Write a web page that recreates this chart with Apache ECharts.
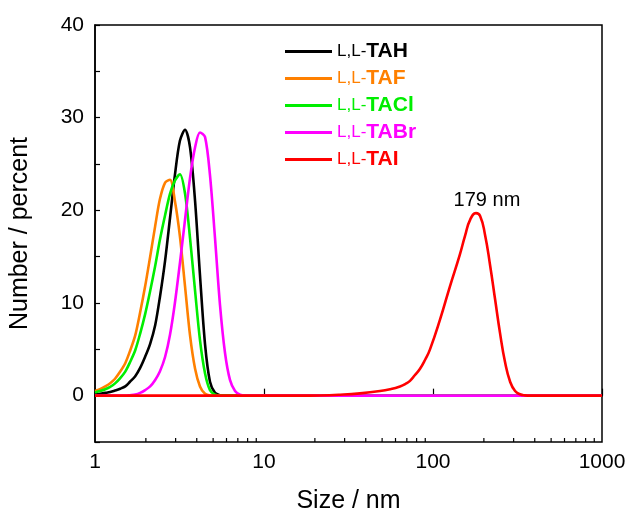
<!DOCTYPE html>
<html>
<head>
<meta charset="utf-8">
<script src="https://cdn.jsdelivr.net/npm/echarts@6/dist/echarts.min.js"></script>
<style>html,body{margin:0;padding:0;background:#fff;}#c{width:632px;height:515px;}</style>
</head>
<body>
<div id="c"></div>
<script>
// Sizes (nm) shared by the four small-molecule peaks
const sizes = [1.00,1.07,1.15,1.23,1.31,1.41,1.51,1.61,1.73,1.85,1.98,2.12,2.27,2.42,2.60,2.78,2.97,3.18,3.41,3.65,3.91,4.18,4.48,4.79,5.13,5.49,5.88,6.29,6.74,7.21,7.72,8.26,1000];
const tah  = [0.15,0.2,0.3,0.4,0.55,0.75,1.0,1.5,2.1,3.0,4.2,5.6,7.6,10.6,14.6,19.2,23.8,27.5,28.7,26.8,21.0,13.0,5.5,1.5,0.3,0.05,0,0,0,0,0,0,0];
const taf  = [0.5,0.7,1.0,1.35,1.8,2.6,3.5,4.8,6.5,9.0,11.8,15.0,18.3,21.2,23.0,23.3,21.0,17.2,11.8,6.5,2.9,1.0,0.2,0.02,0,0,0,0,0,0,0,0,0];
const tacl = [0.35,0.5,0.7,0.95,1.3,1.9,2.6,3.6,4.9,6.7,8.8,11.3,14.0,16.8,19.5,21.8,23.2,23.9,21.8,17.0,11.3,6.0,2.4,0.6,0.1,0,0,0,0,0,0,0,0];
const tabr = [0,0,0,0,0,0,0,0.05,0.12,0.3,0.6,1.0,1.7,2.6,4.2,6.6,10.0,14.3,19.0,23.5,26.8,28.4,27.9,23.8,17.0,9.8,4.6,1.7,0.5,0.1,0,0,0];
// TAI aggregate peak
const taiSizes = [1,16.3,21.4,28.2,37.0,48.6,55.7,63.8,68.5,73.1,78.0,83.8,90.0,96.0,110,126,144,155,166,179.6,190,203,218,233,249,267,286,306,327,350,375,1000];
const taiVals  = [0,0,0.02,0.1,0.25,0.5,0.7,1.0,1.25,1.6,2.2,2.9,3.9,5.0,8.2,11.8,15.2,17.3,19.0,19.7,19.4,17.4,14.0,10.4,6.8,3.6,1.5,0.5,0.15,0.03,0,0];
const names  = ['TAH','TAF','TACl','TABr','TAI'];
const colors = ['#000000','#FF8000','#00EE00','#FF00FF','#FF0000'];
const peakLabel = '179 nm';
const peakIndex = 19;
const xMinorTicks = [2,3,4,5,6,7,8,9,20,30,40,50,60,70,80,90,200,300,400,500,600,700,800,900];

const FF = 'Liberation Sans, Arial, sans-serif';
const zip = (xs, ys) => xs.map((x, i) => [x, ys[i]]);
const allVals = [tah, taf, tacl, tabr];

const series = names.map((n, i) => {
  const s = {
    name: n, type: 'line', showSymbol: false, symbol: 'none',
    smooth: i === 4 ? 0.5 : 0.3,
    lineStyle: { width: 2.6, color: colors[i] },
    itemStyle: { color: colors[i] },
    data: i < 4 ? zip(sizes, allVals[i]) : zip(taiSizes, taiVals),
    z: 2 + i
  };
  if (i === 4) {
    s.markPoint = {
      symbol: 'circle', symbolSize: 0,
      data: [{ coord: [taiSizes[peakIndex], taiVals[peakIndex]] }],
      label: { show: true, position: 'top', distance: 3, offset: [11, 0], formatter: peakLabel, color: '#000', fontSize: 20, fontFamily: FF },
      silent: true
    };
  }
  return s;
});

const chart = echarts.init(document.getElementById('c'), null, { renderer: 'canvas' });
chart.setOption({
  animation: false,
  backgroundColor: '#fff',
  grid: { left: 95, right: 30, top: 25, bottom: 73, outerBoundsMode: 'none', containLabel: false,
          show: true, borderColor: '#000', borderWidth: 1.5, backgroundColor: 'transparent' },
  legend: {
    orient: 'vertical', left: 280, top: 36,
    itemWidth: 47, itemHeight: 3, itemGap: 6, icon: 'rect',
    data: names.map((n, i) => ({ name: n, textStyle: { color: colors[i] } })),
    formatter: n => '{p|L,L-}{b|' + n + '}',
    textStyle: {
      fontFamily: FF,
      rich: {
        p: { fontSize: 17, fontFamily: FF },
        b: { fontSize: 21, fontWeight: 'bold', fontFamily: FF }
      }
    },
    selectedMode: false
  },
  xAxis: {
    type: 'log', logBase: 10, min: 1, max: 1000,
    name: 'Size / nm', nameLocation: 'middle', nameGap: 47,
    nameTextStyle: { fontSize: 25, color: '#000', fontFamily: FF },
    axisLine: { lineStyle: { color: '#000', width: 1.5 } },
    axisTick: { inside: true, length: 7, lineStyle: { color: '#000', width: 1.2 } },
    axisLabel: { fontSize: 21, color: '#000', fontFamily: FF, margin: 10, formatter: v => String(v) },
    splitLine: { show: false }
  },
  yAxis: {
    type: 'value', min: -5, max: 40, interval: 5,
    name: 'Number / percent', nameLocation: 'middle', nameGap: 62,
    nameTextStyle: { fontSize: 25, color: '#000', fontFamily: FF },
    axisLine: { show: true, lineStyle: { color: '#000', width: 1.5 } },
    axisTick: { inside: true, length: 5, lineStyle: { color: '#000', width: 1.2 } },
    axisLabel: { fontSize: 21, color: '#000', fontFamily: FF, margin: 11,
      formatter: v => (v >= 0 && v % 10 === 0) ? String(v) : '' },
    splitLine: { show: false }
  },
  series: series
});

// minor log ticks placed through the axis scale
const yBottom = chart.convertToPixel({ yAxisIndex: 0 }, -5);
const g = xMinorTicks.map(v => {
  const x = chart.convertToPixel({ xAxisIndex: 0 }, v);
  return { type: 'line', shape: { x1: x, y1: yBottom, x2: x, y2: yBottom - 4 }, style: { stroke: '#000', lineWidth: 1.2 }, silent: true };
});
chart.setOption({ graphic: g });
</script>
</body>
</html>
